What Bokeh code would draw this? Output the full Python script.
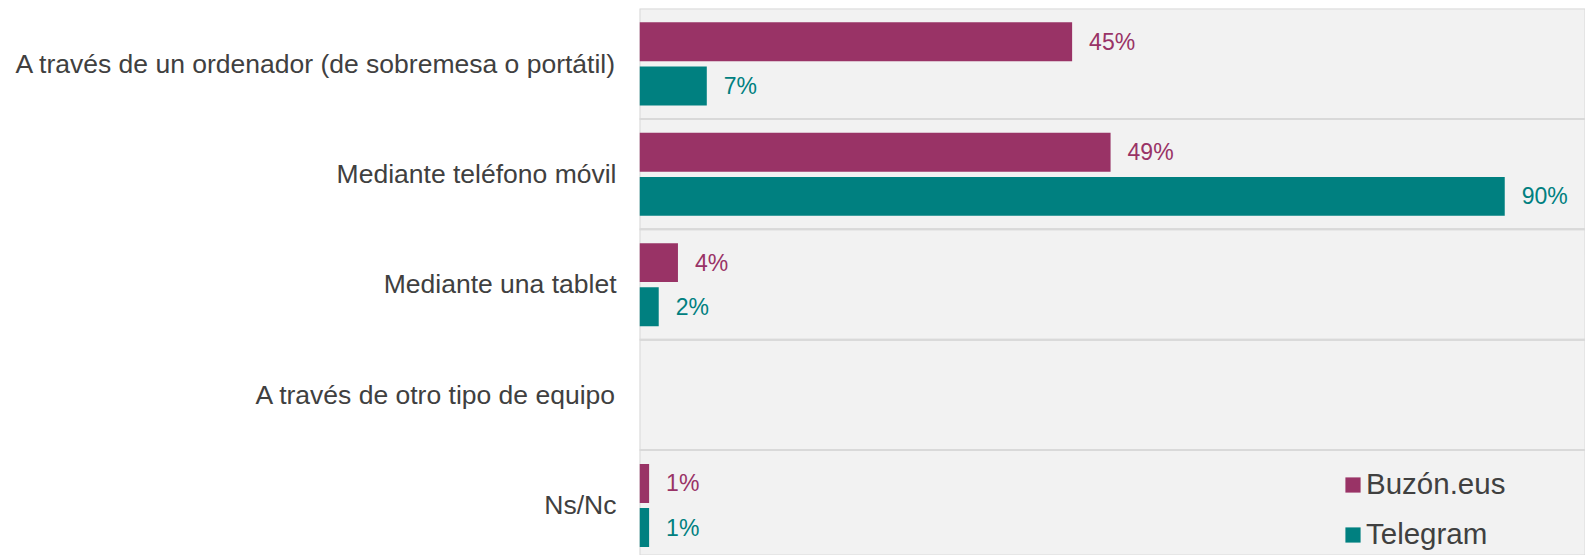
from bokeh.plotting import figure
from bokeh.models import ColumnDataSource, Range1d, Legend, LegendItem, FixedTicker
from bokeh.transform import dodge
from bokeh.core.properties import value
from bokeh.embed import file_html
from bokeh.resources import INLINE

categories = [
    "A través de un ordenador (de sobremesa o portátil)",
    "Mediante teléfono móvil",
    "Mediante una tablet",
    "A través de otro tipo de equipo",
    "Ns/Nc",
]
buzon = [45, 49, 4, 0, 1]
telegram = [7, 90, 2, 0, 1]
series_names = ["Buzón.eus", "Telegram"]
colors = ["#993366", "#008080"]

FONT = "Liberation Sans"

def lbl(v):
    return [f"{x}%" if x > 0 else "" for x in v]

n = len(categories)
pos = [n - 1 - i for i in range(n)]  # first category on top

src = ColumnDataSource(dict(
    pos=pos,
    cat=categories,
    buzon=buzon,
    telegram=telegram,
    buzon_lbl=lbl(buzon),
    telegram_lbl=lbl(telegram),
))

p = figure(
    width=1585, height=555,
    y_range=Range1d(-0.455, n - 0.5),
    x_range=(0, 98.4),
    output_backend="svg", toolbar_location=None,
    min_border_left=639, min_border_right=0, min_border_top=8, min_border_bottom=0,
)
p.background_fill_color = "#f2f2f2"
p.border_fill_color = "white"
p.outline_line_color = None
p.xaxis.visible = False
p.xgrid.visible = False
p.ygrid.visible = False

# band separators
p.hbar(y="pos", height=1.0, left=-20, right=200, source=src,
       fill_alpha=0, line_color="#d9d9d9", line_width=2)

r1 = p.hbar(y=dodge("pos", 0.198), height=0.353, left=0, right="buzon",
            source=src, fill_color=colors[0], line_color=None)
r2 = p.hbar(y=dodge("pos", -0.202), height=0.353, left=0, right="telegram",
            source=src, fill_color=colors[1], line_color=None)

p.text(x="buzon", y=dodge("pos", 0.198), text="buzon_lbl", source=src,
       x_offset=17, text_baseline="middle", text_align="left",
       text_font=value(FONT), text_font_size="23px", text_color=colors[0])
p.text(x="telegram", y=dodge("pos", -0.202), text="telegram_lbl", source=src,
       x_offset=17, text_baseline="middle", text_align="left",
       text_font=value(FONT), text_font_size="23px", text_color=colors[1])

ax = p.yaxis[0]
ax.ticker = FixedTicker(ticks=pos)
ax.major_label_overrides = {pp: c for pp, c in zip(pos, categories)}
ax.axis_line_color = None
ax.major_tick_line_color = None
ax.minor_tick_line_color = None
ax.major_label_standoff = 17
ax.major_label_text_font = FONT
ax.major_label_text_font_size = "26.5px"
ax.major_label_text_color = "#404040"

legend = Legend(
    items=[LegendItem(label=series_names[0], renderers=[r1]),
           LegendItem(label=series_names[1], renderers=[r2])],
    location=(704, 4),
    glyph_width=19, glyph_height=19,
    label_text_font=FONT, label_text_font_size="29.5px", label_text_color="#404040",
    label_standoff=4, spacing=16, padding=0, margin=0,
    background_fill_alpha=0, border_line_color=None,
)
p.add_layout(legend, "center")

open("out.html", "w").write(file_html(p, INLINE))
